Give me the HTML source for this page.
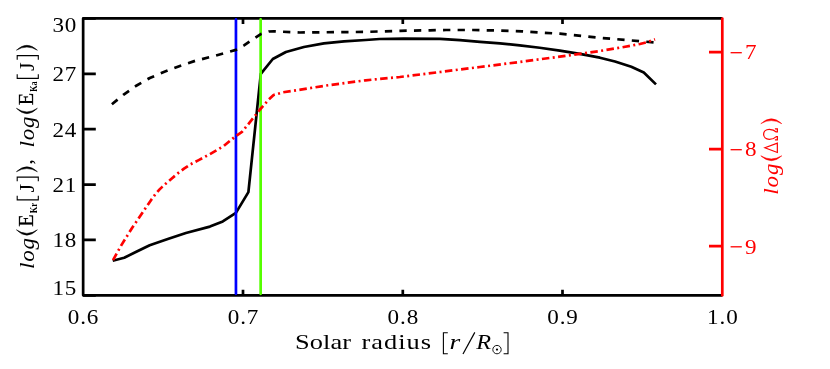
<!DOCTYPE html>
<html><head><meta charset="utf-8">
<style>
html,body{margin:0;padding:0;background:#fff;}
body{width:830px;height:369px;overflow:hidden;}
svg{display:block;will-change:transform;}
text{font-family:"Liberation Serif",serif;}
.i{font-style:italic;}
.b{font-weight:bold;}
</style></head><body>
<svg width="830" height="369" viewBox="0 0 830 369">
<rect width="830" height="369" fill="#fff"/>
<g stroke="#000" stroke-width="2.7" fill="none">
<polyline points="722.3,18.45 83.15,18.45 83.15,295.3 722.3,295.3" stroke-linejoin="round"/>
<path d="M83.15,18.45H95.8 M82,73.8H95.8 M82,129.2H95.8 M82,184.6H95.8 M82,239.9H95.8 M83.15,295.3H95.8"/>
<path d="M243,289.7V295 M402.8,289.7V295 M562.5,289.7V295 M243,18.5V23.9 M402.8,18.5V23.9 M562.5,18.5V23.9"/>
</g>
<g stroke="#ff0000" stroke-width="2.7" fill="none">
<line x1="722.3" y1="18.5" x2="722.3" y2="295.3" stroke-linecap="round"/>
<path d="M709,52.1H722.3 M709,149.1H722.3 M709,246.2H722.3"/>
</g>
<g fill="none" stroke-width="2.7" stroke-linejoin="round">
<polyline stroke="#000" points="112.70,260.70 124.20,257.80 135.80,252.00 149.70,245.20 167.80,239.00 185.90,233.00 209.90,226.60 222.80,221.40 235.90,212.90 248.40,192.10 260.80,73.90 272.80,59.00 285.90,52.00 303.90,47.00 323.90,43.40 344.00,41.40 365.60,40.00 379.70,39.00 403.80,38.60 440.00,38.80 460.00,40.20 480.00,41.80 500.00,43.40 519.70,45.40 539.70,47.77 559.80,50.55 579.80,53.92 599.90,57.70 615.00,61.50 631.30,66.80 643.80,72.50 656.00,84.40" transform="translate(0,0)"/>
<line x1="235.95" y1="19.4" x2="235.95" y2="293.8" stroke="#0000ff" stroke-linecap="round"/>
<line x1="260.65" y1="19.4" x2="260.65" y2="293.8" stroke="#55ff00" stroke-linecap="round"/>
<polyline stroke="#000" stroke-dasharray="7.3 7.25" stroke-dashoffset="0" points="111.90,104.30 123.70,94.60 135.80,86.00 149.80,78.00 163.80,72.00 179.90,66.00 195.90,60.60 211.90,56.60 236.00,49.90 244.00,45.40 260.80,34.10 268.80,31.50 273.80,31.30 299.90,32.50 365.60,31.90 400.00,30.80 430.00,30.30 446.00,30.00 473.00,30.00 500.00,30.60 522.00,31.40 559.80,33.70 599.90,37.80 639.90,41.20 655.00,42.50" transform="translate(0,0)"/>
<polyline stroke="#ff0000" stroke-width="2.7" stroke-dasharray="7.5 3.4 2 3.4" stroke-dashoffset="-0.6" points="112.70,260.70 121.40,245.10 132.20,227.80 143.30,211.50 147.70,204.90 151.50,199.40 155.50,194.00 159.60,189.40 162.50,186.60 165.30,184.10 171.80,178.50 177.50,173.60 184.00,168.70 190.50,164.30 198.70,160.10 210.00,154.10 223.90,145.90 236.00,135.90 242.00,131.90 251.90,119.70 260.00,109.50 268.80,99.40 273.60,95.00 283.10,92.30 300.70,89.60 326.40,85.50 365.60,80.30 399.80,77.00 439.90,72.00 479.90,67.00 519.70,62.00 559.80,56.60 599.90,51.00 623.90,47.00 639.90,44.00 648.00,42.00 655.00,39.30" transform="translate(0,0)"/>
</g>
<g font-size="21" fill="#000">
<text transform="translate(52.6,31.6) scale(1.1,1)" textLength="21.64" lengthAdjust="spacing">30</text>
<text transform="translate(52.6,81.3) scale(1.1,1)" textLength="21.64" lengthAdjust="spacing">27</text>
<text transform="translate(52.6,136.8) scale(1.1,1)" textLength="21.64" lengthAdjust="spacing">24</text>
<text transform="translate(52.6,192.1) scale(1.1,1)" textLength="21.64" lengthAdjust="spacing">21</text>
<text transform="translate(52.6,247.3) scale(1.1,1)" textLength="21.64" lengthAdjust="spacing">18</text>
<text transform="translate(52.6,294.6) scale(1.1,1)" textLength="21.64" lengthAdjust="spacing">15</text>
</g>
<g font-size="21" fill="#000">
<text transform="translate(67.8,323.5) scale(1.1,1)" textLength="27.82" lengthAdjust="spacing">0.6</text>
<text transform="translate(227.8,323.5) scale(1.1,1)" textLength="27.82" lengthAdjust="spacing">0.7</text>
<text transform="translate(387.6,323.5) scale(1.1,1)" textLength="27.82" lengthAdjust="spacing">0.8</text>
<text transform="translate(547.3,323.5) scale(1.1,1)" textLength="27.82" lengthAdjust="spacing">0.9</text>
<text transform="translate(707.0999999999999,323.5) scale(1.1,1)" textLength="27.82" lengthAdjust="spacing">1.0</text>
</g>
<g font-size="21" fill="#ff0000">
<text transform="translate(745,59.4) scale(1.1,1)">7</text>
<line x1="730.6" x2="741.8" y1="52.7" y2="52.7" stroke="#ff0000" stroke-width="1.3"/>
<text transform="translate(745,156.4) scale(1.1,1)">8</text>
<line x1="730.6" x2="741.8" y1="149.7" y2="149.7" stroke="#ff0000" stroke-width="1.3"/>
<text transform="translate(745,253.5) scale(1.1,1)">9</text>
<line x1="730.6" x2="741.8" y1="246.79999999999998" y2="246.79999999999998" stroke="#ff0000" stroke-width="1.3"/>
</g>
<g font-size="21" fill="#000">
<text transform="translate(295.0,348.6) scale(1.2,1)" textLength="46.67" lengthAdjust="spacing" font-size="22">Solar</text>
<text transform="translate(361.6,348.6) scale(1.2,1)" textLength="57.83" lengthAdjust="spacing" font-size="22">radius</text>
<text transform="translate(449.4,348.5) scale(1.25,1)" class="i" font-size="22">r</text>
<text transform="translate(476.2,348.5) scale(1.1,1)" class="i" font-size="22">R</text>
</g>
<g fill="none" stroke="#000" stroke-width="1.1">
<path d="M447.8,332.8H443.4V353.8H447.8"/>
<path d="M503.6,332.8H508V353.8H503.6"/>
<path d="M463,354 L474.8,332.4" stroke-width="1.2"/>
<circle cx="497" cy="349.6" r="4.2" stroke-width="0.9"/>
</g>
<circle cx="497" cy="349.6" r="1.1" fill="#000"/>
<g transform="translate(33.5,267.4) rotate(-90)" font-size="21" fill="#000" stroke="none">
<text transform="translate(-1.5,0) scale(1.1,1)" textLength="28.18" lengthAdjust="spacing" class="i">log</text>
<path d="M37.60,-17.1 Q26.80,-6.6 37.60,3.9 Q30.40,-6.6 37.60,-17.1 Z" fill="#000" stroke="#000" stroke-width="0.5" stroke-linejoin="round"/>
<text transform="translate(40.6,-0.8) scale(1.1,1)" textLength="11.27" lengthAdjust="spacingAndGlyphs" stroke="#000" stroke-width="0.3">E</text>
<text transform="translate(54.2,3.6) scale(1.1,1)" textLength="9.36" lengthAdjust="spacingAndGlyphs" class="b" font-size="10">Kr</text>
<path d="M71.6,-16.3 H67.5 V4.8 H71.6" fill="none" stroke="#000" stroke-width="1.1"/>
<text transform="translate(75.0,0) scale(1.1,1)" textLength="7.91" lengthAdjust="spacingAndGlyphs">J</text>
<path d="M86.2,-16.3 H90.3 V4.8 H86.2" fill="none" stroke="#000" stroke-width="1.1"/>
<path d="M95.70,-17.1 Q105.50,-6.6 95.70,3.9 Q101.90,-6.6 95.70,-17.1 Z" fill="#000" stroke="#000" stroke-width="0.5" stroke-linejoin="round"/>
<text transform="translate(102.6,-1.6) scale(1.1,1)">,</text>
<text transform="translate(120.0,0) scale(1.1,1)" textLength="28.18" lengthAdjust="spacing" class="i">log</text>
<path d="M159.10,-17.1 Q148.30,-6.6 159.10,3.9 Q151.90,-6.6 159.10,-17.1 Z" fill="#000" stroke="#000" stroke-width="0.5" stroke-linejoin="round"/>
<text transform="translate(162.1,-0.8) scale(1.1,1)" textLength="11.27" lengthAdjust="spacingAndGlyphs" stroke="#000" stroke-width="0.3">E</text>
<text transform="translate(175.7,3.6) scale(1.1,1)" textLength="9.36" lengthAdjust="spacingAndGlyphs" class="b" font-size="10">Ka</text>
<path d="M193.1,-16.3 H189.0 V4.8 H193.1" fill="none" stroke="#000" stroke-width="1.1"/>
<text transform="translate(196.5,0) scale(1.1,1)" textLength="7.91" lengthAdjust="spacingAndGlyphs">J</text>
<path d="M207.7,-16.3 H211.8 V4.8 H207.7" fill="none" stroke="#000" stroke-width="1.1"/>
<path d="M217.20,-17.1 Q227.00,-6.6 217.20,3.9 Q223.40,-6.6 217.20,-17.1 Z" fill="#000" stroke="#000" stroke-width="0.5" stroke-linejoin="round"/>
</g>
<g transform="translate(777.9,193.9) rotate(-90)" font-size="21" fill="#ff0000" stroke="none">
<text transform="translate(-0.9,0) scale(1.1,1)" textLength="28.55" lengthAdjust="spacing" class="i">log</text>
<path d="M38.10,-17.1 Q28.30,-6.6 38.10,3.9 Q31.90,-6.6 38.10,-17.1 Z" fill="#ff0000" stroke="#ff0000" stroke-width="0.5" stroke-linejoin="round"/>
<path transform="translate(40.8,0) scale(1,-1)" d="M0.6,0.55 H10.0 L5.4,13.0 Z" fill="none" stroke="#ff0000" stroke-width="1.2" stroke-linejoin="miter"/>
<path transform="translate(53.6,0) scale(1,-1)" d="M0.5,3.0 V0.55 H3.7 V1.6 C1.9,3.4 1.0,5.8 1.0,8.6 C1.0,12.0 3.2,14.3 6.0,14.3 C8.8,14.3 11.0,12.0 11.0,8.6 C11.0,5.8 10.1,3.4 8.3,1.6 V0.55 H11.5 V3.0" fill="none" stroke="#ff0000" stroke-width="1.25" stroke-linejoin="miter"/>
<path d="M70.20,-17.1 Q80.00,-6.6 70.20,3.9 Q76.40,-6.6 70.20,-17.1 Z" fill="#ff0000" stroke="#ff0000" stroke-width="0.5" stroke-linejoin="round"/>
</g>
</svg>
</body></html>
